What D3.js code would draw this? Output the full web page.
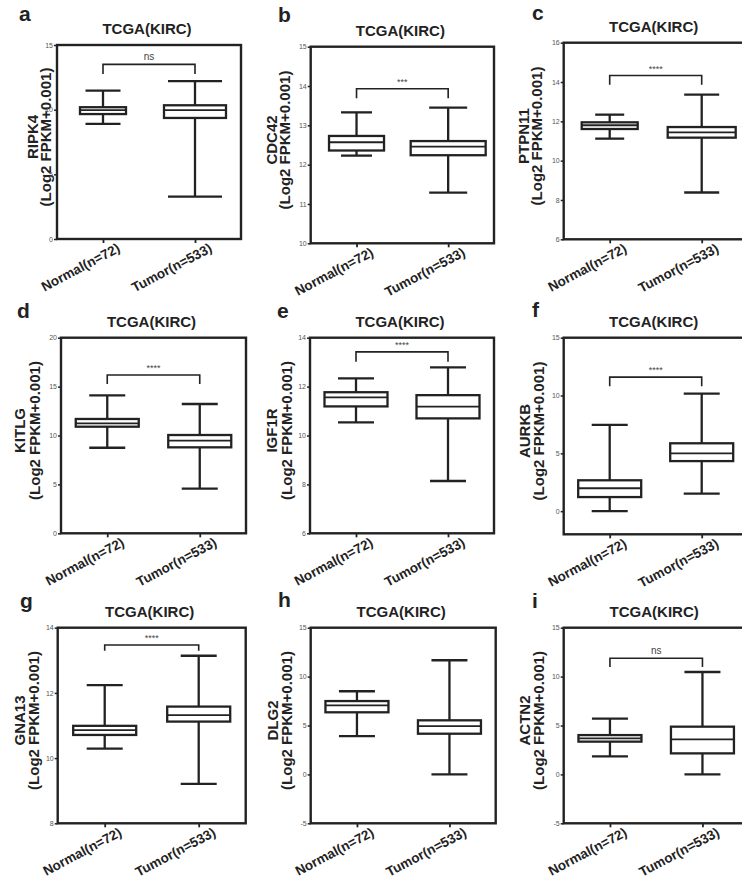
<!DOCTYPE html>
<html><head><meta charset="utf-8">
<script src="https://cdn.jsdelivr.net/npm/d3@7"></script>
<style>body{margin:0;background:#fff}svg{display:block}</style>
</head><body><svg id="c" width="742" height="881"></svg>
<script>
// ---------- data ----------
const panelLetters = ["a","b","c","d","e","f","g","h","i"];
const genes = ["RIPK4","CDC42","PTPN11","KITLG","IGF1R","AURKB","GNA13","DLG2","ACTN2"];
const groups = ["Normal(n=72)","Tumor(n=533)"];
const title = "TCGA(KIRC)";
const yLabel2 = "(Log2 FPKM+0.001)";
const yMin = [0,10,6,0,6,-2,8,-5,-5];
const yMax = [15,15,16,20,14,15,14,15,15];
const yTicks = [[0,5,10,15],[10,11,12,13,14,15],[6,8,10,12,14,16],[0,5,10,15,20],[6,8,10,12,14],[0,5,10,15],[8,10,12,14],[-5,0,5,10,15],[-5,0,5,10,15]];
// [min, q1, median, q3, max]
const normalStats = [
  [8.9,9.66,9.97,10.19,11.47],
  [12.23,12.36,12.57,12.73,13.33],
  [11.12,11.61,11.8,11.95,12.34],
  [8.75,10.9,11.25,11.69,14.1],
  [10.54,11.19,11.56,11.77,12.34],
  [0.0,1.22,1.98,2.67,7.47],
  [10.29,10.71,10.86,10.99,12.24],
  [3.92,6.35,7.06,7.5,8.5],
  [1.84,3.35,3.68,4.02,5.7]];
const tumorStats = [
  [3.27,9.36,9.97,10.34,12.2],
  [11.29,12.24,12.46,12.6,13.45],
  [8.38,11.17,11.44,11.71,13.36],
  [4.56,8.79,9.47,10.05,13.22],
  [8.14,10.7,11.18,11.65,12.79],
  [1.52,4.33,5.0,5.87,10.17],
  [9.21,11.12,11.32,11.58,13.14],
  [0,4.16,4.94,5.53,11.67],
  [0,2.15,3.58,4.88,10.47]];
const sigLabels = ["ns","***","****","****","****","****","****","","ns"];
const sigLevel = [13.5,13.93,14.33,16.19,13.42,11.59,13.47,null,11.87];
const sigDrop  = [12.76,13.69,13.86,15.27,13.02,10.8,13.29,null,10.98];

// ---------- layout (positions / sizes) ----------
const layout = [
  {x:57,   y:45,    w:184, h:194,   lx:19,  ly:21,  gx:38,  px:51},
  {x:310.7,y:46.7,  w:183.3,h:196.6,lx:278, ly:22,  gx:277, px:290},
  {x:563.7,y:42.7,  w:184, h:196.6, lx:532, ly:20,  gx:529, px:542},
  {x:61,   y:337.7, w:185, h:195.6, lx:17,  ly:318, gx:25,  px:40},
  {x:310,  y:337.7, w:184, h:195.6, lx:277, ly:318, gx:277, px:292},
  {x:563.7,y:337.7, w:184, h:196.6, lx:532, ly:317, gx:530, px:544},
  {x:57.7, y:627.7, w:188, h:195.6, lx:20,  ly:608, gx:25,  px:39},
  {x:310.7,y:627.7, w:185, h:195.6, lx:278, ly:607, gx:278, px:292},
  {x:563.7,y:627.7, w:185, h:195.6, lx:532, ly:608, gx:530, px:544}
];
const boxW = [[46,62],[55,75],[56,68],[63,63],[63,63],[63,63],[63,63],[63,63],[63,63]];
const capW = [[35,54],[31,38],[29,35],[36,36],[36,36],[36,36],[36,36],[36,36],[36,36]];
const ink = "#222";
const font = "Liberation Sans, Arial, Helvetica, sans-serif";

const svg = d3.select("#c").style("font-family", font);
svg.append("rect").attr("width",742).attr("height",881).attr("fill","#fff");

panelLetters.forEach((letter, i) => {
  const L = layout[i];
  const y = d3.scaleLinear().domain([yMin[i], yMax[i]]).range([L.y + L.h, L.y]);
  const x = d3.scalePoint().domain(groups).range([L.x, L.x + L.w]).padding(0.5);
  const g = svg.append("g");

  // panel letter
  g.append("text").attr("x", L.lx).attr("y", L.ly).text(letter)
    .attr("font-size", 21).attr("font-weight", "bold").attr("fill", ink);
  // title
  g.append("text").attr("x", L.x + L.w / 2 - 2).attr("y", L.y - 11).attr("text-anchor", "middle")
    .text(title).attr("font-size", 15).attr("font-weight", "bold").attr("fill", ink);
  // y labels
  const cy = L.y + L.h / 2 - 5;
  g.append("text").attr("transform", `translate(${L.gx},${cy}) rotate(-90)`).attr("text-anchor","middle")
    .text(genes[i]).attr("font-size", 15).attr("font-weight","bold").attr("fill", ink);
  g.append("text").attr("transform", `translate(${L.px},${cy}) rotate(-90)`).attr("text-anchor","middle")
    .text(yLabel2).attr("font-size", 15).attr("font-weight","bold").attr("fill", ink);

  // y axis
  const ya = g.append("g").attr("transform", `translate(${L.x},0)`)
    .call(d3.axisLeft(y).tickValues(yTicks[i]).tickSize(3).tickPadding(1).tickFormat(d => String(d)));
  ya.select(".domain").remove();
  ya.selectAll(".tick line").attr("stroke", ink).attr("stroke-width", 1.5);
  ya.selectAll(".tick text").attr("font-size", 7).attr("fill", "#555").attr("font-family", font);

  // x axis
  const xa = g.append("g").attr("transform", `translate(0,${L.y + L.h})`)
    .call(d3.axisBottom(x).tickSize(4).tickFormat(""));
  xa.select(".domain").remove();
  xa.selectAll(".tick line").attr("stroke", ink).attr("stroke-width", 1.8);
  groups.forEach(gr => {
    g.append("text")
      .attr("transform", `translate(${x(gr) + 18},${L.y + L.h + 12}) rotate(-28)`)
      .attr("text-anchor", "end").text(gr)
      .attr("font-size", 13.5).attr("font-weight", "bold").attr("fill", ink);
  });

  // frame
  g.append("rect").attr("x", L.x).attr("y", L.y).attr("width", L.w).attr("height", L.h)
    .attr("fill", "none").attr("stroke", ink).attr("stroke-width", 2.4);

  // boxes
  [normalStats[i], tumorStats[i]].forEach((s, j) => {
    const cx = x(groups[j]);
    const bw = boxW[i][j], cw = capW[i][j];
    g.append("line").attr("x1", cx).attr("x2", cx).attr("y1", y(s[0])).attr("y2", y(s[4]))
      .attr("stroke", ink).attr("stroke-width", 2.3);
    [s[0], s[4]].forEach(v => g.append("line").attr("x1", cx - cw/2).attr("x2", cx + cw/2)
      .attr("y1", y(v)).attr("y2", y(v)).attr("stroke", ink).attr("stroke-width", 2.3));
    g.append("rect").attr("x", cx - bw/2).attr("width", bw)
      .attr("y", y(s[3])).attr("height", y(s[1]) - y(s[3]))
      .attr("fill", "#fff").attr("stroke", ink).attr("stroke-width", 2.3);
    g.append("line").attr("x1", cx - bw/2).attr("x2", cx + bw/2).attr("y1", y(s[2])).attr("y2", y(s[2]))
      .attr("stroke", ink).attr("stroke-width", 1.8);
  });

  // significance bracket
  if (sigLevel[i] !== null) {
    const x1 = x(groups[0]), x2 = x(groups[1]);
    g.append("path")
      .attr("d", `M${x1},${y(sigDrop[i])}V${y(sigLevel[i])}H${x2}V${y(sigDrop[i])}`)
      .attr("fill", "none").attr("stroke", ink).attr("stroke-width", 1.6);
    g.append("text").attr("x", (x1 + x2) / 2).attr("y", y(sigLevel[i]) - 4)
      .attr("text-anchor", "middle").text(sigLabels[i])
      .attr("font-size", sigLabels[i] === "ns" ? 10 : 9).attr("fill", "#444");
  }
});
</script></body></html>
